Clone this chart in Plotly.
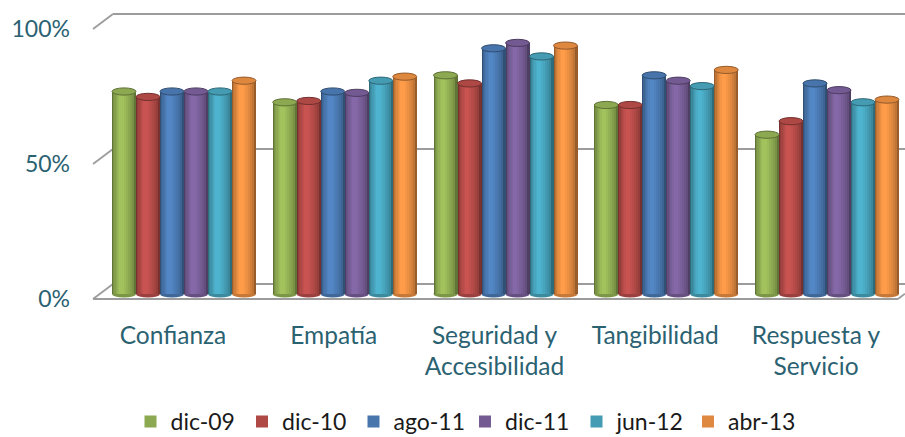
import plotly.graph_objects as go

# Survey dimensions (x categories) and measurement dates (series)
categories = ["Confianza", "Empatía", "Seguridad y<br>Accesibilidad", "Tangibilidad", "Respuesta y<br>Servicio"]
series_names = ["dic-09", "dic-10", "ago-11", "dic-11", "jun-12", "abr-13"]

dic_09 = [0.75, 0.71, 0.81, 0.70, 0.59]
dic_10 = [0.73, 0.715, 0.78, 0.70, 0.64]
ago_11 = [0.75, 0.75, 0.91, 0.81, 0.78]
dic_11 = [0.75, 0.745, 0.93, 0.79, 0.755]
jun_12 = [0.75, 0.79, 0.88, 0.77, 0.71]
abr_13 = [0.79, 0.805, 0.92, 0.83, 0.72]
series_values = [dic_09, dic_10, ago_11, dic_11, jun_12, abr_13]

series_colors = ["#9BBB59", "#C0504D", "#4F81BD", "#8064A2", "#4BACC6", "#F79646"]

y_ticks = [0, 0.5, 1]
y_tick_labels = ["0%", "50%", "100%"]

# ---- geometry -------------------------------------------------------------
W, H = 905, 437
ML, MR, MT, MB = 93, 0, 8, 135
PLOT_W = W - ML - MR
PLOT_H = H - MT - MB
PX_PER_CAT = 160.75          # pixels between category centres
PX_PER_UNIT = 270.0          # pixels for 100 %
X0 = -(184 - ML) / PX_PER_CAT
X1 = X0 + PLOT_W / PX_PER_CAT
Y1 = (294 - MT) / PX_PER_UNIT
Y0 = -(MT + PLOT_H - 294) / PX_PER_UNIT

BAR_W = 24 / PX_PER_CAT      # one cylinder
GROUP_HALF = 3 * BAR_W
DEPTH_X = 20 / PLOT_W        # perspective shift of the back wall (paper)
BACK_DY = 10 / PX_PER_UNIT   # back wall is drawn slightly higher
FRONT_DY = -5 / PX_PER_UNIT  # front edge slightly lower
CAP = 3.6 / PX_PER_UNIT      # half height of cylinder ellipses

GRID = "#9c9c9c"
TEXT = "#2b6272"
FONT = "Lato"


def hex_rgb(c):
    c = c.lstrip("#")
    return [int(c[i:i + 2], 16) for i in (0, 2, 4)]


def mix(c1, c2, t):
    a, b = hex_rgb(c1), hex_rgb(c2)
    return "rgb({},{},{})".format(*[round(a[i] + (b[i] - a[i]) * t) for i in range(3)])


def shade(c, f):
    r = hex_rgb(c)
    return "#{:02x}{:02x}{:02x}".format(*[max(0, min(255, round(v * f))) for v in r])


fig = go.Figure()
shapes = []
xs = list(range(len(categories)))

# Cylinders: concentric strips, darker at the edges and lighter near the centre
N_LAYERS = 7
for j, (name, vals, base) in enumerate(zip(series_names, series_values, series_colors)):
    dark = shade(base, 0.62)
    light = shade(base, 1.04)
    left = -GROUP_HALF + j * BAR_W
    for k in range(N_LAYERS):
        t = k / (N_LAYERS - 1)
        frac = 1 - 0.82 * t
        centre = 0.5 - 0.1 * t
        w = BAR_W * frac
        off = left + BAR_W * centre - w / 2
        fig.add_trace(go.Bar(
            x=xs, y=vals, width=w, offset=off,
            marker=dict(color=mix(dark, light, t ** 0.55), line=dict(width=0)),
            name=name, legendgroup=name, showlegend=(k == 3),
            hovertemplate=name + ": %{y:.0%}<extra></extra>",
        ))
    for i, v in enumerate(vals):
        # rounded bottom and top cap of each cylinder
        shapes.append(dict(type="circle", xref="x", yref="y", layer="below",
                           x0=i + left, x1=i + left + BAR_W, y0=-CAP, y1=CAP,
                           fillcolor=shade(base, 0.8), line=dict(width=0)))
        shapes.append(dict(type="circle", xref="x", yref="y", layer="above",
                           x0=i + left, x1=i + left + BAR_W, y0=v - CAP, y1=v + CAP,
                           fillcolor=shade(base, 0.9), line=dict(color=shade(base, 0.6), width=1)))

# Back wall gridlines and side-wall connectors
for v in y_ticks:
    shapes.append(dict(type="line", xref="paper", yref="y", layer="below",
                       x0=DEPTH_X, x1=1, y0=v + BACK_DY, y1=v + BACK_DY,
                       line=dict(color=GRID, width=1.8)))
    shapes.append(dict(type="line", xref="paper", yref="y", layer="below",
                       x0=0, x1=DEPTH_X, y0=v + FRONT_DY, y1=v + BACK_DY,
                       line=dict(color=GRID, width=1.8)))
# Front edge of the floor
front_end = (898 - ML) / PLOT_W
shapes.append(dict(type="line", xref="paper", yref="y", layer="below",
                   x0=0, x1=front_end, y0=FRONT_DY, y1=FRONT_DY,
                   line=dict(color=GRID, width=1.8)))
shapes.append(dict(type="line", xref="paper", yref="y", layer="below",
                   x0=front_end, x1=1, y0=FRONT_DY,
                   y1=FRONT_DY + (1 - front_end) / DEPTH_X * (BACK_DY - FRONT_DY),
                   line=dict(color=GRID, width=1.8)))

fig.update_layout(
    width=W, height=H,
    margin=dict(l=ML, r=MR, t=MT, b=MB, pad=0, autoexpand=False),
    paper_bgcolor="white", plot_bgcolor="white",
    barmode="overlay", bargap=0,
    shapes=shapes,
    font=dict(family=FONT, size=23, color=TEXT),
    xaxis=dict(range=[X0, X1], tickvals=xs, ticktext=categories,
               showgrid=False, zeroline=False, showline=False, ticks="",
               ticklabelstandoff=16, ticklabelshift=-11,
               tickfont=dict(family=FONT, size=24.5, color=TEXT), fixedrange=True),
    yaxis=dict(range=[Y0, Y1], tickvals=y_ticks, ticktext=y_tick_labels,
               showgrid=False, zeroline=False, showline=False, ticks="",
               ticklabelstandoff=22, ticklabelshift=5,
               tickfont=dict(family=FONT, size=23, color=TEXT), fixedrange=True),
    legend=dict(orientation="h", x=(465 - ML) / PLOT_W, xanchor="center",
                y=(MT + PLOT_H - 443) / PLOT_H, yanchor="bottom",
                font=dict(family=FONT, size=23, color="#1a1a1a"),
                itemwidth=30, entrywidth=66.5, traceorder="normal",
                bgcolor="rgba(0,0,0,0)", borderwidth=0),
    showlegend=True,
)

fig.write_html("out.html")
